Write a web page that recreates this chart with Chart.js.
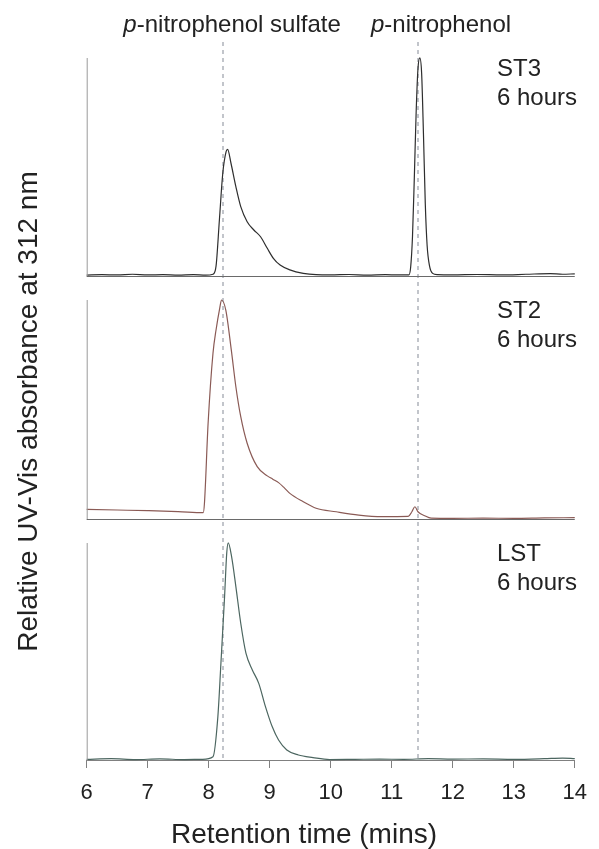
<!DOCTYPE html>
<html>
<head>
<meta charset="utf-8">
<script src="https://cdn.jsdelivr.net/npm/chart.js@4.4.1/dist/chart.umd.min.js"></script>
<style>
  html, body { margin: 0; padding: 0; background: #fff; }
  canvas { display: block; }
</style>
</head>
<body>
<canvas id="chrom" width="599" height="849"></canvas>
<script>
/* Stacked HPLC chromatograms (ST3 / ST2 / LST, 6 h), UV-Vis at 312 nm. */
const FONT = "'Liberation Sans', Arial, Helvetica, sans-serif";

// ST3 trace: retention time (min) and relative absorbance
const st3Time = [6.0, 6.25, 6.5, 6.75, 7.0, 7.25, 7.5, 7.75, 7.95, 8.07, 8.12, 8.175, 8.23, 8.285, 8.31, 8.365, 8.445, 8.525, 8.63, 8.74, 8.85, 8.96, 9.06, 9.17, 9.33, 9.55, 9.76, 10.0, 10.3, 10.6, 10.9, 11.1, 11.28, 11.31, 11.34, 11.37, 11.40, 11.43, 11.46, 11.49, 11.52, 11.55, 11.58, 11.62, 11.67, 11.75, 12.0, 12.4, 12.8, 13.2, 13.6, 13.8, 14.0];
const st3Abs  = [0.004, 0.006, 0.005, 0.008, 0.005, 0.006, 0.004, 0.006, 0.004, 0.008, 0.045, 0.257, 0.47, 0.57, 0.581, 0.517, 0.41, 0.318, 0.249, 0.211, 0.18, 0.127, 0.081, 0.05, 0.028, 0.012, 0.006, 0.005, 0.007, 0.004, 0.006, 0.005, 0.005, 0.04, 0.18, 0.45, 0.75, 0.95, 1.0, 0.93, 0.65, 0.33, 0.14, 0.045, 0.012, 0.006, 0.005, 0.007, 0.005, 0.008, 0.011, 0.008, 0.01];

// ST2 trace
const st2Time = [6.0, 6.5, 7.0, 7.5, 7.91, 7.93, 7.99, 8.07, 8.12, 8.18, 8.21, 8.28, 8.37, 8.445, 8.525, 8.63, 8.795, 8.96, 9.05, 9.145, 9.24, 9.33, 9.55, 9.76, 10.09, 10.46, 10.84, 11.27, 11.33, 11.38, 11.43, 11.54, 11.645, 12.0, 12.5, 13.0, 13.5, 14.0];
const st2Abs  = [0.044, 0.041, 0.038, 0.034, 0.029, 0.072, 0.437, 0.757, 0.863, 0.962, 1.0, 0.954, 0.772, 0.604, 0.467, 0.346, 0.239, 0.197, 0.182, 0.166, 0.142, 0.117, 0.079, 0.049, 0.033, 0.018, 0.011, 0.012, 0.033, 0.056, 0.033, 0.015, 0.004, 0.003, 0.004, 0.003, 0.005, 0.006];

// LST trace
const lstTime = [6.0, 6.4, 6.8, 7.2, 7.6, 7.9, 8.07, 8.15, 8.2, 8.26, 8.295, 8.32, 8.375, 8.445, 8.525, 8.61, 8.715, 8.82, 8.93, 9.04, 9.145, 9.28, 9.47, 9.71, 9.98, 10.4, 10.8, 11.2, 11.6, 12.0, 12.5, 13.0, 13.5, 13.8, 14.0];
const lstAbs  = [0.003, 0.006, 0.002, 0.005, 0.002, 0.003, 0.015, 0.2, 0.446, 0.752, 0.952, 1.0, 0.937, 0.799, 0.63, 0.492, 0.415, 0.353, 0.246, 0.154, 0.092, 0.046, 0.023, 0.011, 0.002, 0.003, 0.004, 0.003, 0.006, 0.004, 0.005, 0.003, 0.006, 0.009, 0.006];

// reference retention times and their labels
const markerTimes = [8.24, 11.43];
const markerNames = ["-nitrophenol sulfate", "-nitrophenol"];

const panelNames = ["ST3", "ST2", "LST"];
const panelTime = "6 hours";

const pts = (t, a) => t.map((x, i) => ({ x, y: a[i] }));
const line = (data, color, axis) => ({ data, yAxisID: axis, borderColor: color, borderWidth: 1.2,
  pointRadius: 0, cubicInterpolationMode: "monotone", clip: false });

const panelIds = ["yST3", "yST2", "yLST"];
const labelOffsets = [-100, -47]; // label left edge relative to marker line

const overlay = {
  id: "overlay",
  beforeDatasetsDraw(chart) {
    const { ctx, chartArea, scales } = chart;
    ctx.save();
    ctx.setLineDash([4, 4]);
    ctx.strokeStyle = "#b3b7bf"; ctx.lineWidth = 1.6;
    markerTimes.forEach((t) => {
      const px = Math.round(scales.x.getPixelForValue(t));
      ctx.beginPath(); ctx.moveTo(px, chartArea.top); ctx.lineTo(px, chartArea.bottom); ctx.stroke();
    });
    ctx.restore();
  },
  afterDatasetsDraw(chart) {
    const { ctx, scales } = chart;
    const x = scales.x;
    ctx.save();
    panelIds.forEach((id, i) => {
      const y = scales[id];
      const y0 = Math.round(y.getPixelForValue(0)) + 0.5, y1 = Math.round(y.getPixelForValue(1));
      ctx.lineWidth = 1;
      ctx.strokeStyle = "#9a9a9a";
      ctx.beginPath(); ctx.moveTo(x.left + 0.5, y0); ctx.lineTo(x.left + 0.5, y1); ctx.stroke();
      if (i < 2) {
        ctx.strokeStyle = "#6a6a6a";
        ctx.beginPath(); ctx.moveTo(x.left, y0); ctx.lineTo(x.right, y0); ctx.stroke();
      }
      // panel label
      ctx.fillStyle = "#222"; ctx.font = `24px ${FONT}`; ctx.textAlign = "left"; ctx.textBaseline = "alphabetic";
      ctx.fillText(panelNames[i], 497, y1 + 18);
      ctx.fillText(panelTime, 497, y1 + 47);
    });
    // compound labels with italic p
    markerTimes.forEach((t, i) => {
      const left = x.getPixelForValue(t) + labelOffsets[i];
      ctx.font = `italic 24px ${FONT}`;
      ctx.fillText("p", left, 32);
      const w = ctx.measureText("p").width;
      ctx.font = `24px ${FONT}`;
      ctx.fillText(markerNames[i], left + w, 32);
    });
    // axis titles
    ctx.font = `28px ${FONT}`; ctx.fillStyle = "#222";
    ctx.textAlign = "center";
    ctx.fillText("Retention time (mins)", 304, 843);
    ctx.translate(36.5, 411.5); ctx.rotate(-Math.PI / 2);
    ctx.fillText("Relative UV-Vis absorbance at 312 nm", 0, 0);
    ctx.restore();
  }
};

new Chart(document.getElementById("chrom"), {
  type: "line",
  data: { datasets: [
    line(pts(st3Time, st3Abs), "#2e2e2e", "yST3"),
    line(pts(st2Time, st2Abs), "#8a5a55", "yST2"),
    line(pts(lstTime, lstAbs), "#4c6660", "yLST"),
  ] },
  options: {
    responsive: false, animation: false, events: [],
    layout: { padding: { left: 86.7, right: 16.3, top: 42, bottom: 0 } },
    plugins: { legend: { display: false }, tooltip: { enabled: false } },
    scales: {
      x: { type: "linear", min: 6, max: 14, position: "bottom",
        afterFit: (s) => { s.height = 89; },
        border: { display: true, color: "#808080", width: 1 },
        grid: { display: true, drawOnChartArea: false, drawTicks: true, tickLength: 8, color: "#808080" },
        ticks: { stepSize: 1, padding: 12, color: "#222", font: { family: FONT, size: 22 } } },
      yLST: { type: "linear", display: false, stack: "panels", stackWeight: 229, min: 0, max: 1.055 },
      yST2: { type: "linear", display: false, stack: "panels", stackWeight: 243, min: -0.0548, max: 1.0548 },
      yST3: { type: "linear", display: false, stack: "panels", stackWeight: 246, min: -0.055, max: 1.073 },
    }
  },
  plugins: [overlay]
});
</script>
</body>
</html>
